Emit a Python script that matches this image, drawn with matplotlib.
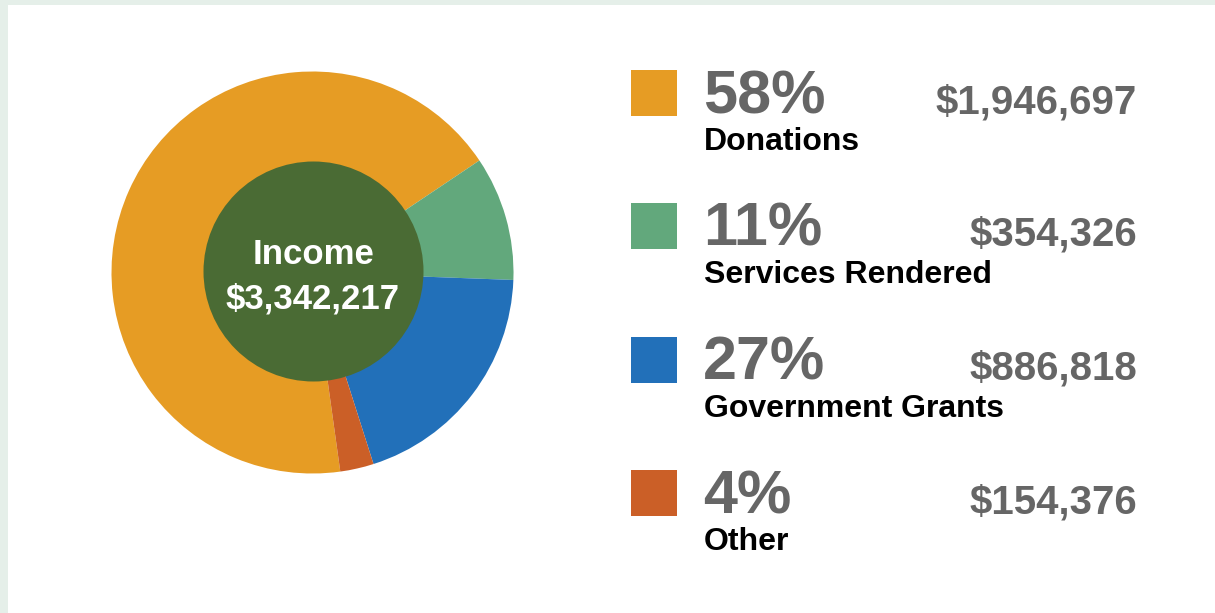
import matplotlib.pyplot as plt
from matplotlib.patches import Rectangle, Circle

# data
categories = ['Donations', 'Services Rendered', 'Government Grants', 'Other']
amounts = [1946697, 354326, 886818, 154376]
pct_labels = ['58%', '11%', '27%', '4%']
ring_share = [67.8, 10.0, 19.5, 2.7]   # shares as drawn in the ring
colors = ['#E69C24', '#62A87C', '#2270B9', '#CB5F27']

W, H = 1215, 613
plt.rcParams['font.family'] = ['Liberation Sans', 'DejaVu Sans']

fig = plt.figure(figsize=(W / 100, H / 100), dpi=100)
fig.patch.set_facecolor('white')
ax = fig.add_axes([0, 0, 1, 1])

def Y(y):
    # pixel row (from top) -> data y
    return H - y

# ring
cx, cy, r = 312.5, Y(272.5), 201
ax.pie(ring_share, colors=colors, center=(cx, cy), radius=r,
       startangle=277.95, counterclock=False, frame=True,
       wedgeprops=dict(linewidth=0))
ax.set_xlim(0, W)
ax.set_ylim(0, H)
ax.set_aspect('auto')
ax.axis('off')
ax.add_patch(Circle((cx + 1, cy + 1), 110, color='#4A6B34', lw=0, zorder=5))

# light frame on top and left
ax.add_patch(Rectangle((0, Y(5)), W, 5, color='#E5EFE9', lw=0))
ax.add_patch(Rectangle((0, 0), 8, H, color='#E5EFE9', lw=0))

total = sum(amounts)
ax.text(cx + 1, Y(251.5), 'Income', color='white', fontsize=25,
        fontweight='bold', ha='center', va='center_baseline', zorder=6)
ax.text(cx + 0.5, Y(295), '${:,}'.format(total), color='white', fontsize=25,
        fontweight='bold', ha='center', va='center_baseline', zorder=6)

# legend rows
row_top = [70, 203, 337, 470]
for i in range(len(categories)):
    t = row_top[i]
    ax.add_patch(Rectangle((631, Y(t + 46)), 46, 46, color=colors[i], lw=0))
    ax.text(703, Y(t + 43), pct_labels[i], color='#666666', fontsize=44,
            fontweight='bold', ha='left', va='baseline')
    ax.text(1137, Y(t + 43), '${:,}'.format(amounts[i]), color='#666666',
            fontsize=29, fontweight='bold', ha='right', va='baseline')
    ax.text(704, Y(t + 80), categories[i], color='black', fontsize=23,
            fontweight='bold', ha='left', va='baseline')

fig.savefig('out.png', dpi=100)
